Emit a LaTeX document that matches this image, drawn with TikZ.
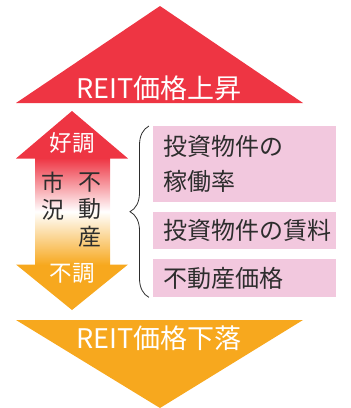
\documentclass[tikz,border=0pt]{standalone}
\usepackage{fontspec}
\newfontfamily\jp{Noto Sans CJK JP}
\usetikzlibrary{decorations.pathreplacing}
\definecolor{reitred}{RGB}{238,53,67}
\definecolor{reitorange}{RGB}{247,168,30}
\definecolor{boxpink}{RGB}{242,200,222}
\definecolor{txtgray}{RGB}{45,45,45}
\tikzset{
  bigtext/.style={text=white, font=\jp\fontsize{27}{30}\selectfont, inner sep=0pt},
  headtext/.style={text=white, font=\jp\fontsize{22.5}{26}\selectfont, inner sep=0pt},
  midtext/.style={text=txtgray, font=\jp\fontsize{23}{27.5}\selectfont, inner sep=0pt, align=center},
  pinkbox/.style={fill=boxpink, draw=none, minimum width=183pt, text width=163pt, align=left, inner xsep=10pt, inner ysep=0pt, anchor=north west, text=txtgray, font=\jp\fontsize{24}{35}\selectfont},
}
\begin{document}
\begin{tikzpicture}[x=1pt,y=-1pt]
\useasboundingbox (0,0) rectangle (351,408);
% top triangle
\fill[reitred] (160,6) -- (303,103) -- (16,103) -- cycle;
\node[bigtext] (up) at (159,88) {REIT価格上昇};
% bottom triangle
\fill[reitorange] (16,320) -- (303,320) -- (160,408) -- cycle;
\node[bigtext] (down) at (159,338) {REIT価格下落};
% double arrow
\fill[reitred] (72,111) -- (128,158.5) -- (16,158.5) -- cycle;
\fill[reitorange] (16,264.5) -- (128,264.5) -- (72,310) -- cycle;
\shade[top color=reitred, bottom color=reitorange, middle color=white, shading angle=0] (35,158) rectangle (110,265);
\node[headtext] (good) at (72,143) {好調};
\node[headtext] (bad) at (72,273) {不調};
\node[midtext] (shikyo) at (53,196) {市\\況};
\node[midtext] (fudosan) at (90,210) {不\\動\\産};
% pink boxes
\node[pinkbox, minimum height=76pt] (b1) at (153,126) {投資物件の\\稼働率};
\node[pinkbox, minimum height=37pt] (b2) at (153,212) {投資物件の賃料};
\node[pinkbox, minimum height=38pt] (b3) at (153,259) {不動産価格};
% brace
\draw[txtgray, line width=0.8pt, decorate, decoration={brace, amplitude=19pt, aspect=0.5}]
  ([xshift=-4pt]b3.south west) -- ([xshift=-4pt]b1.north west);
\end{tikzpicture}
\end{document}
